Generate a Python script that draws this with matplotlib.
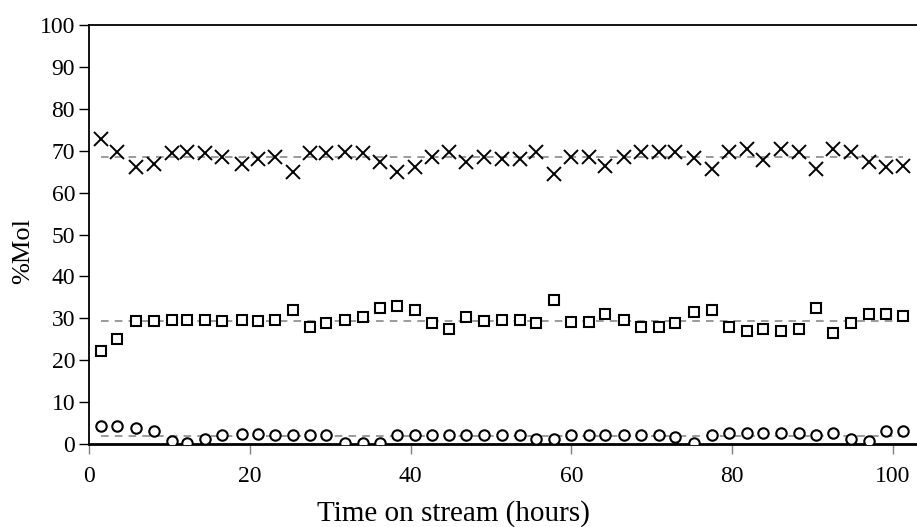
import matplotlib
matplotlib.use("Agg")
import matplotlib.pyplot as plt

# time on stream (hours)
hours = [1.5, 3.5, 5.8, 8.1, 10.3, 12.2, 14.4, 16.6, 19.0, 21.0, 23.2, 25.4,
         27.5, 29.5, 31.8, 34.1, 36.2, 38.3, 40.5, 42.7, 44.8, 46.9, 49.2,
         51.4, 53.6, 55.6, 57.9, 60.0, 62.2, 64.2, 66.6, 68.7, 70.9, 72.9,
         75.2, 77.5, 79.6, 81.8, 83.9, 86.1, 88.3, 90.4, 92.6, 94.8, 97.0,
         99.2, 101.3]

# %Mol, cross series
cross = [72.8, 69.8, 66.2, 66.9, 69.4, 69.8, 69.4, 68.5, 66.9, 68.0, 68.4,
         65.0, 69.4, 69.4, 69.8, 69.4, 67.4, 65.0, 66.2, 68.5, 69.8, 67.4,
         68.4, 68.0, 68.0, 69.8, 64.5, 68.5, 68.5, 66.4, 68.5, 69.6, 69.8,
         69.8, 68.2, 65.6, 69.6, 70.4, 67.8, 70.4, 69.8, 65.6, 70.4, 69.8,
         67.4, 66.2, 66.4]

# %Mol, square series
square = [22.2, 25.0, 29.3, 29.3, 29.7, 29.7, 29.7, 29.3, 29.7, 29.3, 29.7,
          32.1, 27.9, 28.8, 29.7, 30.2, 32.5, 33.0, 32.0, 28.8, 27.4, 30.2,
          29.3, 29.6, 29.6, 28.8, 34.4, 29.2, 29.2, 31.1, 29.6, 27.9, 27.9,
          28.8, 31.5, 32.0, 27.9, 27.0, 27.4, 27.0, 27.4, 32.5, 26.5, 28.8,
          31.1, 31.1, 30.6]

# %Mol, circle series
circle = [4.4, 4.4, 3.9, 3.1, 0.8, 0.2, 1.3, 2.1, 2.5, 2.5, 2.1, 2.1, 2.1,
          2.1, 0.3, 0.3, 0.3, 2.1, 2.1, 2.1, 2.1, 2.1, 2.1, 2.1, 2.1, 1.3,
          1.3, 2.1, 2.1, 2.1, 2.1, 2.1, 2.1, 1.7, 0.3, 2.1, 2.6, 2.6, 2.6,
          2.6, 2.6, 2.1, 2.6, 1.3, 0.8, 3.1, 3.1]

# average levels (dashed lines)
avg_levels = [68.5, 29.4, 1.9]

plt.rcParams["font.family"] = ["Liberation Serif", "DejaVu Serif"]

fig = plt.figure(figsize=(9.17, 5.27), dpi=100)
ax = fig.add_axes([0.097, 0.1575, 0.903, 0.795])

for lvl in avg_levels:
    ax.plot([hours[0], hours[-1]], [lvl, lvl], color="#808080", lw=1.1,
            dashes=(5, 4), zorder=1)

ax.plot(hours, cross, ls="none", marker="x", ms=10, mew=1.4, color="black", zorder=3)
ax.plot(hours, square, ls="none", marker="s", ms=7, mew=1.5, mfc="white",
        mec="black", zorder=3)
ax.plot(hours, circle, ls="none", marker="o", ms=7.5, mew=1.5, mfc="white",
        mec="black", zorder=3)

ax.set_xlim(0, 103)
ax.set_ylim(0, 100)
ax.set_xticks([0, 20, 40, 60, 80, 100])
ax.set_yticks(range(0, 101, 10))

ax.spines["right"].set_visible(False)
for s in ["left", "top"]:
    ax.spines[s].set_linewidth(1.3)
ax.spines["bottom"].set_linewidth(2)

ax.tick_params(axis="y", direction="out", length=7, width=1, labelsize=17, pad=3)
ax.tick_params(axis="x", direction="out", length=7, width=1, color="#808080",
               labelsize=17, pad=9)

ax.set_xlabel("Time on stream (hours)", fontsize=21)
ax.set_ylabel("%Mol", fontsize=19)
# label centres sit a bit left / below the axes centre in the original
ax.xaxis.set_label_coords(0.44, -0.135)
ax.yaxis.set_label_coords(-0.066, 0.46)

fig.savefig("out.png", dpi=100)
